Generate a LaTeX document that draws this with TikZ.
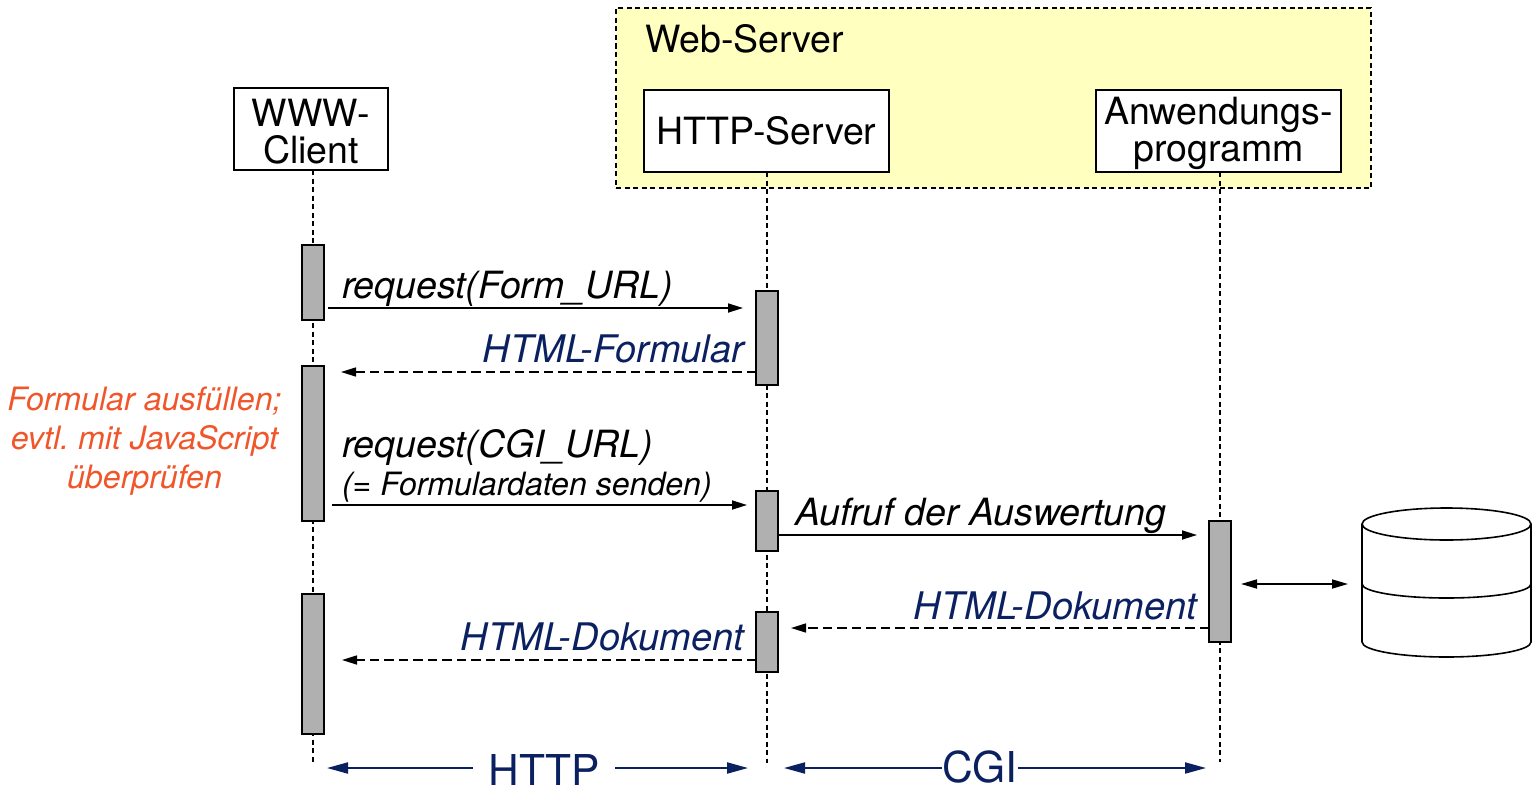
\documentclass[tikz,border=0pt]{standalone}
\usepackage{fontspec}
\setmainfont{TeX Gyre Heros}
\usetikzlibrary{arrows.meta}
\definecolor{navyc}{HTML}{0B2060}
\definecolor{orangec}{HTML}{F0562A}
\definecolor{yellowc}{HTML}{FFFFC0}
\definecolor{barc}{HTML}{B0B0B0}
\frenchspacing
\tikzset{
  x=1pt,y=-1pt,
  every node/.style={inner sep=0pt,outer sep=0pt},
  headbox/.style={draw=black,line width=1.8pt,fill=white,align=center},
  actbar/.style={draw=black,line width=2pt,fill=barc,minimum width=22pt},
  lifeline/.style={line width=1.6pt,dash pattern=on 5pt off 3.5pt},
  tip/.style={-{Triangle[length=15pt,width=9pt]}},
  msg/.style={line width=1.7pt,tip},
  reply/.style={line width=1.6pt,dash pattern=on 9.5pt off 5pt,tip},
  both/.style={line width=1.7pt,{Triangle[length=16pt,width=9pt]}-{Triangle[length=16pt,width=9pt]}},
  span/.style={line width=2pt,navyc,-{Triangle[length=21pt,width=11pt]}},
  bigtext/.style={font=\fontsize{37.5}{37.5}\selectfont},
  twoline/.style={font=\fontsize{37.5}{37}\selectfont,align=center},
  msgtext/.style={font=\fontsize{37.5}{37.5}\selectfont\itshape,anchor=base west},
  replytext/.style={font=\fontsize{38}{38}\selectfont\itshape,text=navyc,anchor=base east},
  dbline/.style={line width=1.6pt},
  spantext/.style={font=\fontsize{42.5}{42.5}\selectfont,text=navyc,anchor=base},
}
\begin{document}
\begin{tikzpicture}
\useasboundingbox (0,0) rectangle (1536,787);
\node[draw=black,line width=1.6pt,dash pattern=on 5pt off 3.5pt,fill=yellowc,minimum width=755pt,minimum height=180pt] (web) at (993.5,98) {};
\node[anchor=base west,bigtext] (webl) at (645,52) {Web-Server};
\node[headbox,minimum width=154pt,minimum height=82pt] (client) at (311,129) {};
\node[twoline] (clientl) at (311,131.5) {WWW-\\Client};
\node[headbox,minimum width=245pt,minimum height=82pt,bigtext] (http) at (766.5,131) {HTTP-Server};
\node[headbox,minimum width=245pt,minimum height=82pt] (app) at (1218.5,131) {};
\node[twoline] (appl) at (1218.5,133) {Anwendungs-\\programm};
\coordinate (cend) at (313,763);
\coordinate (hend) at (767,763);
\coordinate (aend) at (1220,762);
\draw[lifeline] (client.south -| cend) -- (cend);
\draw[lifeline] (http.south -| hend) -- (hend);
\draw[lifeline] (app.south -| aend) -- (aend);
\node[actbar,minimum height=75pt] (a1) at (313,282.5) {};
\node[actbar,minimum height=155pt] (a2) at (313,443.5) {};
\node[actbar,minimum height=140pt] (a3) at (313,664) {};
\node[actbar,minimum height=94pt] (b1) at (767,338) {};
\node[actbar,minimum height=60pt] (b2) at (767,521) {};
\node[actbar,minimum height=60pt] (b3) at (767,642) {};
\node[actbar,minimum height=121pt] (c1) at (1220,581.5) {};
% messages
\coordinate (m1s) at (328,308); \coordinate (m1e) at (743,308);
\draw[msg] (m1s) -- (m1e);
\node[msgtext] (m1l) at (342,298) {request(Form\_URL)};
\coordinate (r1e) at (341,372);
\draw[reply] (b1.west |- r1e) -- (r1e);
\node[replytext] (r1l) at (744,362) {HTML-Formular};
\coordinate (m2s) at (332,505); \coordinate (m2e) at (747,505);
\draw[msg] (m2s) -- (m2e);
\node[msgtext] (m2l) at (342,457) {request(CGI\_URL)};
\node[anchor=base west,font=\fontsize{32.1}{32.1}\selectfont\itshape] (m2m) at (342,495) {(= Formulardaten senden)};
\coordinate (m3e) at (1197,535);
\draw[msg] (b2.east |- m3e) -- (m3e);
\node[msgtext] (m3l) at (795,525) {Aufruf der Auswertung};
\coordinate (r2e) at (791,628);
\draw[reply] (c1.west |- r2e) -- (r2e);
\node[replytext] (r2l) at (1197,619) {HTML-Dokument};
\coordinate (r3e) at (342,660);
\draw[reply] (b3.west |- r3e) -- (r3e);
\node[replytext] (r3l) at (744,650) {HTML-Dokument};
\node[font=\fontsize{32.2}{39}\selectfont\itshape,text=orangec,align=center] (note) at (144.5,441) {Formular ausfüllen;\\evtl. mit JavaScript\\überprüfen};
% database
\path (1446.5,583) node[minimum width=169pt,minimum height=149pt] (db) {};
\draw[dbline,fill=white] (db.west |- 0,524) -- (db.west |- 0,642) arc[start angle=180,end angle=360,x radius=84.5,y radius=-15] -- (db.east |- 0,524);
\draw[dbline,fill=white] (1446.5,524) ellipse[x radius=84.5,y radius=16];
\draw[dbline] (db.west |- 0,584) arc[start angle=180,end angle=360,x radius=84.5,y radius=-14];
\coordinate (d1) at (1241,584); \coordinate (d2) at (1348,584);
\draw[both] (d1) -- (d2);
% spans
\node[spantext] (httpl) at (544,785) {HTTP};
\node[spantext] (cgil) at (980,782) {CGI};
\coordinate (s1) at (327,768); \coordinate (s2) at (748,768);
\coordinate (s3) at (784,768); \coordinate (s4) at (1206,768);
\draw[span] ([xshift=-16pt]httpl.west |- s1) -- (s1);
\draw[span] ([xshift=16pt]httpl.east |- s2) -- (s2);
\draw[span] (cgil.west |- s3) -- (s3);
\draw[span] (cgil.east |- s4) -- (s4);
\end{tikzpicture}
\end{document}
